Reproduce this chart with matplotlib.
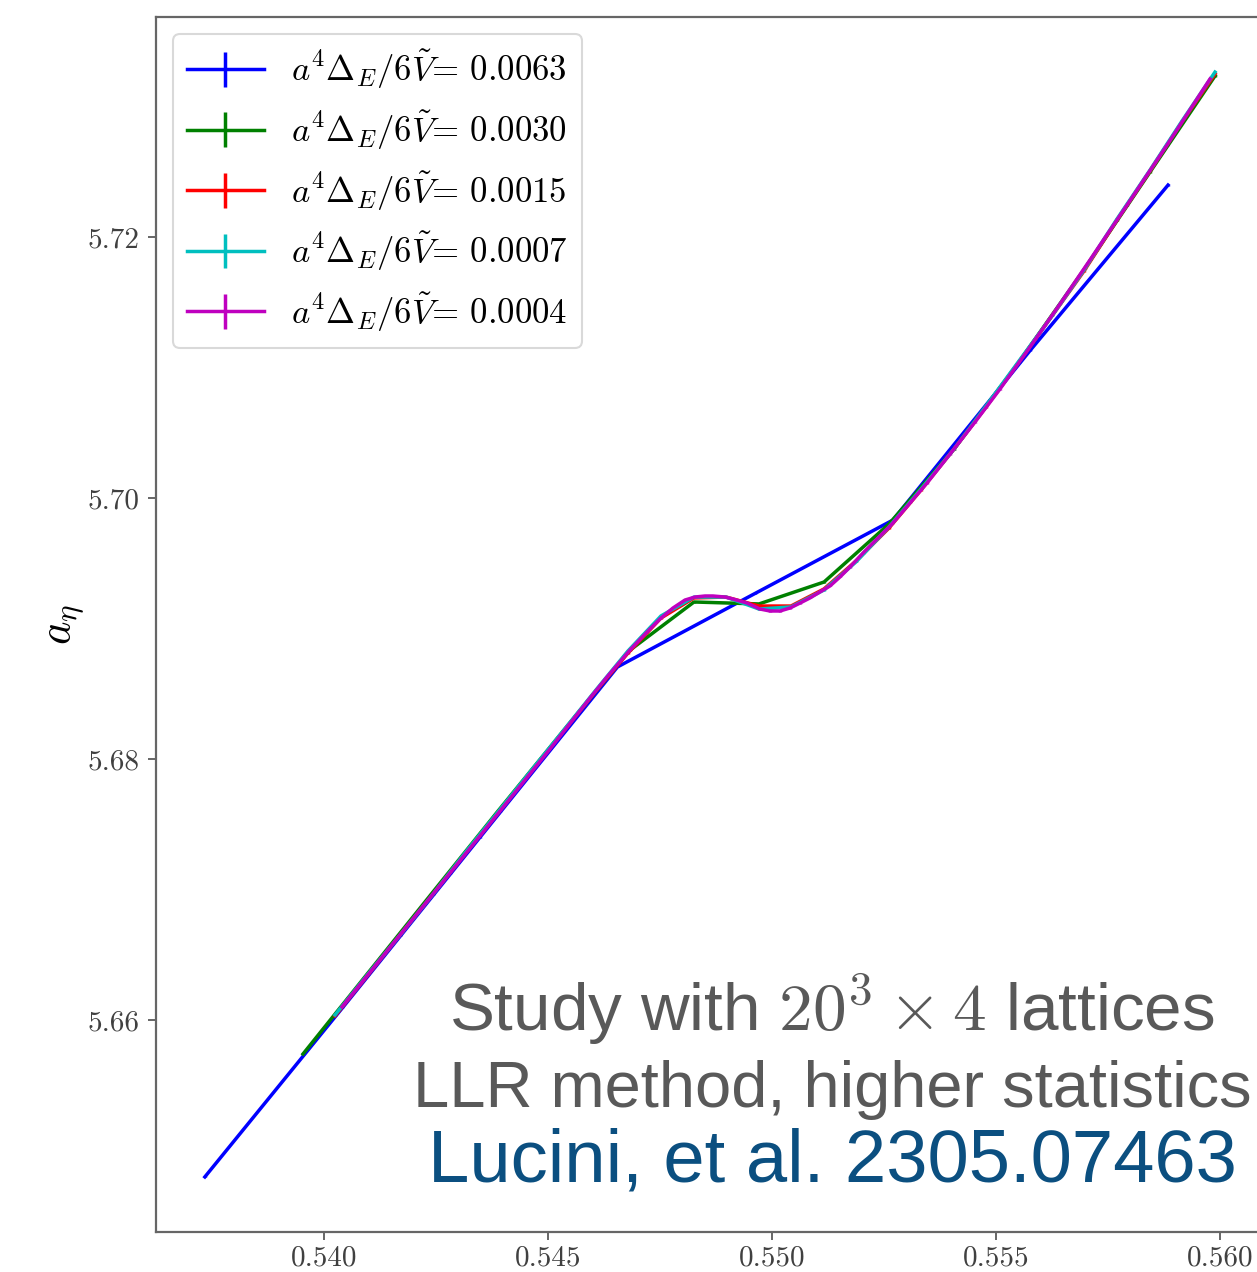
import matplotlib
matplotlib.use("Agg")
import matplotlib.pyplot as plt

plt.rcParams["font.family"] = "serif"
plt.rcParams["font.serif"] = ["cmr10", "DejaVu Serif"]
plt.rcParams["mathtext.fontset"] = "cm"
plt.rcParams["axes.formatter.use_mathtext"] = True
plt.rcParams["axes.unicode_minus"] = False

# data
x_0063 = [0.53734, 0.54041, 0.54348, 0.54655, 0.54963, 0.55270, 0.55577, 0.55884]
y_0063 = [5.64797, 5.66092, 5.67399, 5.68705, 5.69270, 5.69831, 5.71134, 5.72398]

x_0030 = [0.539531, 0.540982, 0.542433, 0.543884, 0.545357, 0.546808, 0.548259, 0.549710,
          0.551161, 0.552612, 0.554063, 0.555513, 0.556987, 0.558438, 0.559888]
y_0030 = [5.65739, 5.66360, 5.66981, 5.67601, 5.68222, 5.68828, 5.69203, 5.69188,
          5.69356, 5.69801, 5.70375, 5.71042, 5.71762, 5.72498, 5.73234]

x_0015 = [0.540246, 0.540982, 0.541696, 0.542433, 0.543147, 0.543884, 0.544598, 0.545335,
          0.546071, 0.546786, 0.547522, 0.548259, 0.548973, 0.549710, 0.550424, 0.551161,
          0.551875, 0.552612, 0.553326, 0.554063, 0.554777, 0.555513, 0.556250, 0.556964,
          0.557701, 0.558438, 0.559152, 0.559888]
y_0015 = [5.66031, 5.66345, 5.66651, 5.66965, 5.67272, 5.67586, 5.67893, 5.68207,
          5.68521, 5.68812, 5.69080, 5.69234, 5.69241, 5.69172, 5.69172, 5.69303,
          5.69517, 5.69770, 5.70061, 5.70375, 5.70697, 5.71042, 5.71395, 5.71739,
          5.72130, 5.72506, 5.72881, 5.73249]

x_0007 = x_0015
y_0007 = [5.66038, 5.66352, 5.66651, 5.66965, 5.67280, 5.67594, 5.67900, 5.68214,
          5.68529, 5.68828, 5.69096, 5.69241, 5.69241, 5.69149, 5.69165, 5.69295,
          5.69510, 5.69778, 5.70069, 5.70375, 5.70705, 5.71050, 5.71395, 5.71747,
          5.72138, 5.72513, 5.72889, 5.73264]

x_0004 = [0.540402, 0.541696, 0.542813, 0.543929, 0.545045, 0.545937, 0.546317, 0.546830,
          0.547210, 0.547500, 0.547790, 0.548058, 0.548281, 0.548504, 0.548683, 0.548951,
          0.549129, 0.549442, 0.549732, 0.549955, 0.550179, 0.550402, 0.550625, 0.550848,
          0.551071, 0.551295, 0.551518, 0.551741, 0.552031, 0.552344, 0.552679, 0.553080,
          0.553460, 0.553973, 0.554531, 0.555089, 0.555759, 0.556429, 0.557098, 0.557924,
          0.558817, 0.559777]
y_0004 = [5.66100, 5.66651, 5.67126, 5.67601, 5.68077, 5.68467, 5.68628, 5.68835,
          5.68973, 5.69073, 5.69157, 5.69218, 5.69241, 5.69249, 5.69249, 5.69241,
          5.69226, 5.69195, 5.69149, 5.69134, 5.69134, 5.69157, 5.69195, 5.69234,
          5.69280, 5.69326, 5.69395, 5.69471, 5.69578, 5.69686, 5.69801, 5.69962,
          5.70115, 5.70337, 5.70582, 5.70835, 5.71157, 5.71487, 5.71824, 5.72245,
          5.72705, 5.73211]

series = [
    (x_0063, y_0063, "b", "0.0063"),
    (x_0030, y_0030, "g", "0.0030"),
    (x_0015, y_0015, "r", "0.0015"),
    (x_0007, y_0007, "c", "0.0007"),
    (x_0004, y_0004, "m", "0.0004"),
]
err = 0.00004

fig = plt.figure(figsize=(12.57, 12.72), dpi=100)
ax = fig.add_axes([156 / 1257, 40 / 1272, 1114 / 1257, 1215 / 1272])

for xs, ys, c, val in series:
    ax.errorbar(xs, ys, yerr=err, color=c, lw=2.5, elinewidth=2.5, capsize=0,
                label=r"$a^4\Delta_E/6\tilde{V}$= " + val)

ax.set_xlim(0.53625, 0.561116)
ax.set_ylim(5.64375, 5.73686)
ax.set_xticks([0.540, 0.545, 0.550, 0.555, 0.560])
ax.set_xticklabels(["0.540", "0.545", "0.550", "0.555", "0.560"])
ax.set_yticks([5.66, 5.68, 5.70, 5.72])
ax.set_yticklabels(["5.66", "5.68", "5.70", "5.72"])
ax.tick_params(labelsize=21, length=6, width=1.2, colors="0.3", labelcolor="0.25")
ax.tick_params(axis="y", pad=6)
for s in ax.spines.values():
    s.set_color("0.4")
    s.set_linewidth(1.6)

ax.set_ylabel(r"$a_\eta$", fontsize=32, labelpad=0)
ax.yaxis.set_label_coords(-0.062, 0.5)

leg = ax.legend(loc="upper left", fontsize=25, handlelength=2.2, labelspacing=0.5,
                framealpha=1, edgecolor="0.85", borderaxespad=0.5)
leg.get_frame().set_linewidth(1.5)

sans = ["Liberation Sans", "DejaVu Sans"]
fig.text(832 / 1257, 1 - 1009 / 1272, r"Study with $20^3\times4$ lattices",
         ha="center", va="center", fontsize=48.5, color="#595959", family=sans)
fig.text(832 / 1257, 1 - 1090 / 1272, "LLR method, higher statistics",
         ha="center", va="center", fontsize=46.8, color="#595959", family=sans)
fig.text(832 / 1257, 1 - 1162 / 1272, "Lucini, et al. 2305.07463",
         ha="center", va="center", fontsize=53.5, color="#0b4f80", family=sans)

fig.savefig("out.png", dpi=100)
